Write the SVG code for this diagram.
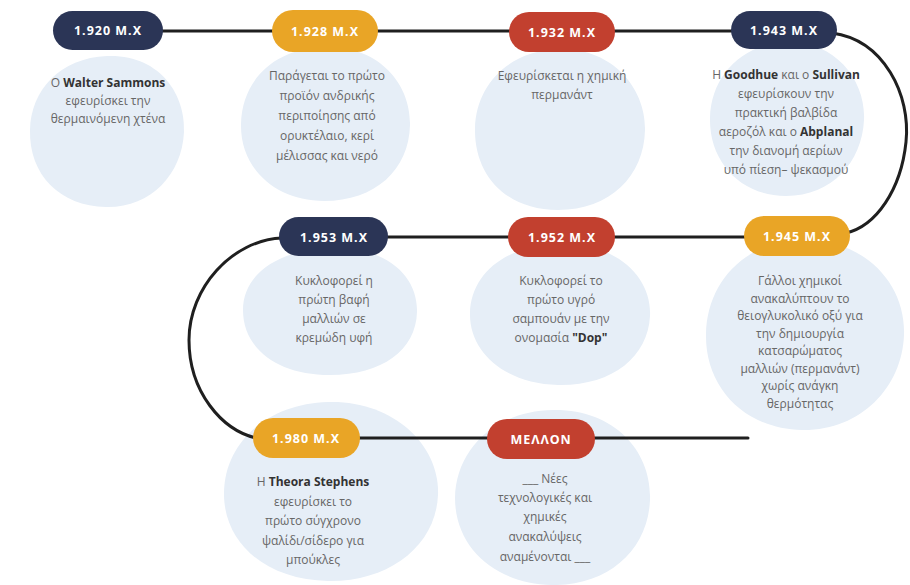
<svg xmlns="http://www.w3.org/2000/svg" width="910" height="585" viewBox="0 0 910 585">
<style>
.blob{fill:#E6EEF7}
.navy{fill:#2B3556}
.orange{fill:#E9A526}
.red{fill:#C2402F}
.lbl{font-family:"Noto Sans","DejaVu Sans",sans-serif;font-weight:700;font-size:12.5px;fill:#fff;text-anchor:middle;letter-spacing:1px}
.txt{font-family:"Open Sans","Noto Sans",sans-serif;font-size:12px;fill:#666;text-anchor:middle}
.b{font-weight:700;fill:#333}
.conn{fill:none;stroke:#1f1f1f;stroke-width:3;stroke-linecap:round}
</style>
<rect width="910" height="585" fill="#fff"/>
<g id="blobs">
<path class="blob" d="M107 56 C160 54 186 95 184 132 C182 175 150 208 106 207 C60 206 29 175 30 130 C31 90 60 58 107 56 Z"/>
<path class="blob" d="M326 47 C380 46 411 85 410 125 C409 170 375 201 324 201 C275 201 240 168 241 124 C242 82 272 48 326 47 Z"/>
<path class="blob" d="M560 49 C612 48 646 88 645 130 C644 176 610 210 558 210 C506 210 474 175 475 128 C476 86 508 50 560 49 Z"/>
<path class="blob" d="M788 42 C835 41 866 80 864 120 C862 162 832 196 786 196 C741 196 709 162 710 118 C711 76 742 43 788 42 Z"/>
<path class="blob" d="M330 248 C385 246 418 275 417 312 C416 350 382 375 330 375 C278 375 243 349 243 310 C243 274 278 250 330 248 Z"/>
<path class="blob" d="M560 244 C618 243 652 278 650 316 C648 357 612 386 558 385 C505 384 469 352 470 313 C471 274 505 245 560 244 Z"/>
<path class="blob" d="M805 240 C866 240 906 285 904 335 C902 388 860 431 802 430 C745 429 705 388 706 334 C707 282 745 240 805 240 Z"/>
<path class="blob" d="M328 402 C393 400 440 445 438 495 C436 545 390 582 328 581 C266 580 223 543 224 492 C225 443 266 404 328 402 Z"/>
<path class="blob" d="M553 410 C615 409 652 452 650 500 C648 550 608 586 552 585 C496 584 455 548 455 498 C456 450 494 411 553 410 Z"/>
</g>
<g id="connectors">
<line class="conn" x1="107" y1="31" x2="784" y2="31"/>
<path class="conn" d="M832 33 C884 40 911 95 906 142 C901 190 876 226 846 233"/>
<line class="conn" x1="334" y1="237" x2="797" y2="237"/>
<path class="conn" d="M282 238 C232 240 189 288 189 340 C189 392 222 430 256 438"/>
<line class="conn" x1="306" y1="438" x2="748" y2="438"/>
</g>
<g id="n1920">
<rect class="navy" x="53" y="11" width="110" height="39" rx="19.5"/>
<text class="lbl" x="108" y="35">1.920 M.X</text>
<text class="txt" x="108" y="87">O <tspan class="b">Walter Sammons</tspan></text>
<text class="txt" x="108" y="105">εφευρίσκει την</text>
<text class="txt" x="108" y="123">θερμαινόμενη χτένα</text>
</g>
<g id="n1928">
<rect class="orange" x="272" y="10" width="106" height="42" rx="21"/>
<text class="lbl" x="325" y="36">1.928 M.X</text>
<text class="txt" x="327" y="80">Παράγεται το πρώτο</text>
<text class="txt" x="327" y="100">προϊόν ανδρικής</text>
<text class="txt" x="327" y="120">περιποίησης από</text>
<text class="txt" x="327" y="140">ορυκτέλαιο, κερί</text>
<text class="txt" x="327" y="160">μέλισσας και νερό</text>
</g>
<g id="n1932">
<rect class="red" x="509" y="12" width="106" height="40" rx="20"/>
<text class="lbl" x="562" y="37">1.932 M.X</text>
<text class="txt" x="562" y="80">Εφευρίσκεται η χημική</text>
<text class="txt" x="562" y="99">περμανάντ</text>
</g>
<g id="n1943">
<rect class="navy" x="731" y="11" width="106" height="38" rx="19"/>
<text class="lbl" x="784" y="35">1.943 M.X</text>
<text class="txt" x="786" y="79">Η <tspan class="b">Goodhue</tspan> και ο <tspan class="b">Sullivan</tspan></text>
<text class="txt" x="786" y="98">εφευρίσκουν την</text>
<text class="txt" x="786" y="117">πρακτική βαλβίδα</text>
<text class="txt" x="786" y="136">αεροζόλ και ο <tspan class="b">Abplanal</tspan></text>
<text class="txt" x="786" y="155">την διανομή αερίων</text>
<text class="txt" x="786" y="174">υπό πίεση– ψεκασμού</text>
</g>
<g id="n1953">
<rect class="navy" x="279" y="217" width="109" height="39" rx="19.5"/>
<text class="lbl" x="334" y="242">1.953 M.X</text>
<text class="txt" x="334" y="285">Κυκλοφορεί η</text>
<text class="txt" x="334" y="304">πρώτη βαφή</text>
<text class="txt" x="334" y="323">μαλλιών σε</text>
<text class="txt" x="334" y="342">κρεμώδη υφή</text>
</g>
<g id="n1952">
<rect class="red" x="508" y="217" width="107" height="40" rx="20"/>
<text class="lbl" x="562" y="242">1.952 M.X</text>
<text class="txt" x="561" y="285">Κυκλοφορεί το</text>
<text class="txt" x="561" y="304">πρώτο υγρό</text>
<text class="txt" x="561" y="323">σαμπουάν με την</text>
<text class="txt" x="561" y="342">ονομασία <tspan class="b">"Dop"</tspan></text>
</g>
<g id="n1945">
<rect class="orange" x="744" y="216" width="106" height="40" rx="20"/>
<text class="lbl" x="797" y="241">1.945 M.X</text>
<text class="txt" x="800" y="285">Γάλλοι χημικοί</text>
<text class="txt" x="800" y="302.5">ανακαλύπτουν το</text>
<text class="txt" x="800" y="320">θειογλυκολικό οξύ για</text>
<text class="txt" x="800" y="337.5">την δημιουργία</text>
<text class="txt" x="800" y="355">κατσαρώματος</text>
<text class="txt" x="800" y="372.5">μαλλιών (περμανάντ)</text>
<text class="txt" x="800" y="390">χωρίς ανάγκη</text>
<text class="txt" x="800" y="407.5">θερμότητας</text>
</g>
<g id="n1980">
<rect class="orange" x="253" y="418" width="107" height="40" rx="20"/>
<text class="lbl" x="306" y="443">1.980 M.X</text>
<text class="txt" x="313" y="486">Η <tspan class="b">Theora Stephens</tspan></text>
<text class="txt" x="313" y="506">εφευρίσκει το</text>
<text class="txt" x="313" y="525">πρώτο σύγχρονο</text>
<text class="txt" x="313" y="545">ψαλίδι/σίδερο για</text>
<text class="txt" x="313" y="564">μπούκλες</text>
</g>
<g id="nfuture">
<rect class="red" x="487" y="419" width="108" height="40" rx="20"/>
<text class="lbl" x="541" y="444">ΜΕΛΛΟΝ</text>
<text class="txt" x="545" y="483">___ Νέες</text>
<text class="txt" x="545" y="502">τεχνολογικές και</text>
<text class="txt" x="545" y="521">χημικές</text>
<text class="txt" x="545" y="541">ανακαλύψεις</text>
<text class="txt" x="545" y="561">αναμένονται ___</text>
</g>
</svg>
